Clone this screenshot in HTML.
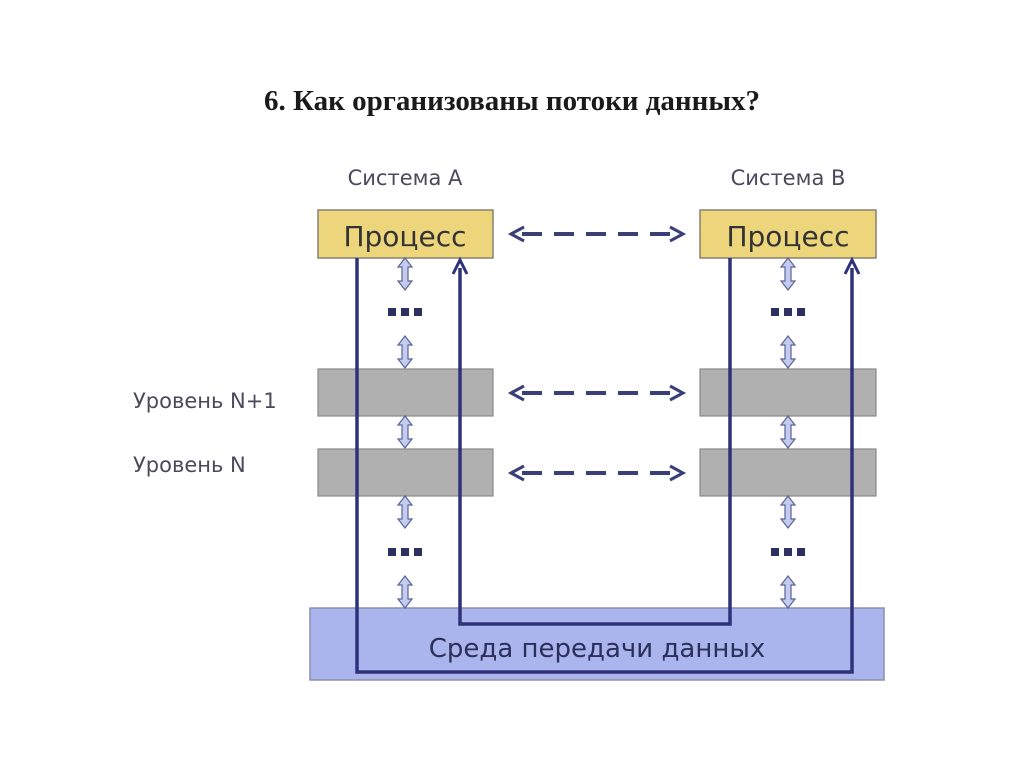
<!DOCTYPE html>
<html><head><meta charset="utf-8"><style>
html,body{margin:0;padding:0;background:#fff;}
svg{display:block;}
</style></head><body>
<svg width="1024" height="767" viewBox="0 0 1024 767" xmlns="http://www.w3.org/2000/svg">
<defs>
<path id="da" d="M0,0 L7,9 L3,9 L3,23 L7,23 L0,32 L-7,23 L-3,23 L-3,9 L-7,9 Z" fill="#c3ccf0" stroke="#5c6294" stroke-width="1.2"/>
<g id="dots"><rect x="-17" y="-5" width="8" height="8" fill="#2e3060"/><rect x="-4" y="-5" width="8" height="8" fill="#2e3060"/><rect x="9" y="-5" width="8" height="8" fill="#2e3060"/></g>
<g id="dash">
<line x1="522" y1="0" x2="672" y2="0" stroke="#3a3f78" stroke-width="4" stroke-dasharray="20,12"/>
<path d="M524,-7 L511,0 L524,7" fill="none" stroke="#3a3f78" stroke-width="3"/>
<path d="M670,-7 L683,0 L670,7" fill="none" stroke="#3a3f78" stroke-width="3"/>
</g>
</defs>
<text x="512" y="110" text-anchor="middle" font-family="Liberation Serif, serif" font-weight="bold" font-size="29" fill="#1a1a1a">6. Как организованы потоки данных?</text>
<g font-family="DejaVu Sans, Liberation Sans, sans-serif" fill="#4a4a5a" font-size="21">
<text x="405" y="185" text-anchor="middle">Система А</text>
<text x="788" y="185" text-anchor="middle">Система В</text>
<text x="133" y="408">Уровень N+1</text>
<text x="133" y="472">Уровень N</text>
</g>
<rect x="310" y="608" width="574" height="72" fill="#a9b5ec" stroke="#8a8fb0" stroke-width="1.5"/>
<text x="597" y="657" text-anchor="middle" font-family="DejaVu Sans, Liberation Sans, sans-serif" font-size="26" fill="#2c2f5a">Среда передачи данных</text>
<rect x="318" y="210" width="175" height="48" fill="#ecd57a" stroke="#8a8070" stroke-width="1.5"/>
<rect x="700" y="210" width="176" height="48" fill="#ecd57a" stroke="#8a8070" stroke-width="1.5"/>
<text x="405" y="246" text-anchor="middle" font-family="DejaVu Sans, Liberation Sans, sans-serif" font-size="28" fill="#333">Процесс</text>
<text x="788" y="246" text-anchor="middle" font-family="DejaVu Sans, Liberation Sans, sans-serif" font-size="28" fill="#333">Процесс</text>
<rect x="318" y="369" width="175" height="47" fill="#b0b0b0" stroke="#888" stroke-width="1.2"/>
<rect x="700" y="369" width="176" height="47" fill="#b0b0b0" stroke="#888" stroke-width="1.2"/>
<rect x="318" y="449" width="175" height="47" fill="#b0b0b0" stroke="#888" stroke-width="1.2"/>
<rect x="700" y="449" width="176" height="47" fill="#b0b0b0" stroke="#888" stroke-width="1.2"/>
<polyline points="357,258 357,672 852,672 852,268" fill="none" stroke="#2e3278" stroke-width="3.5"/>
<polyline points="730,258 730,624 460,624 460,268" fill="none" stroke="#2e3278" stroke-width="3.5"/>
<path d="M453,274 L460,260 L467,274" fill="none" stroke="#2e3278" stroke-width="3"/>
<path d="M845,274 L852,260 L859,274" fill="none" stroke="#2e3278" stroke-width="3"/>
<use href="#dash" transform="translate(0,234)"/>
<use href="#dash" transform="translate(0,393)"/>
<use href="#dash" transform="translate(0,473)"/>
<g>
<use href="#da" transform="translate(405,258)"/>
<use href="#da" transform="translate(405,336)"/>
<use href="#da" transform="translate(405,416)"/>
<use href="#da" transform="translate(405,496)"/>
<use href="#da" transform="translate(405,576)"/>
<use href="#da" transform="translate(788,258)"/>
<use href="#da" transform="translate(788,336)"/>
<use href="#da" transform="translate(788,416)"/>
<use href="#da" transform="translate(788,496)"/>
<use href="#da" transform="translate(788,576)"/>
</g>
<use href="#dots" transform="translate(405,313)"/>
<use href="#dots" transform="translate(788,313)"/>
<use href="#dots" transform="translate(405,553)"/>
<use href="#dots" transform="translate(788,553)"/>
</svg>
</body></html>
